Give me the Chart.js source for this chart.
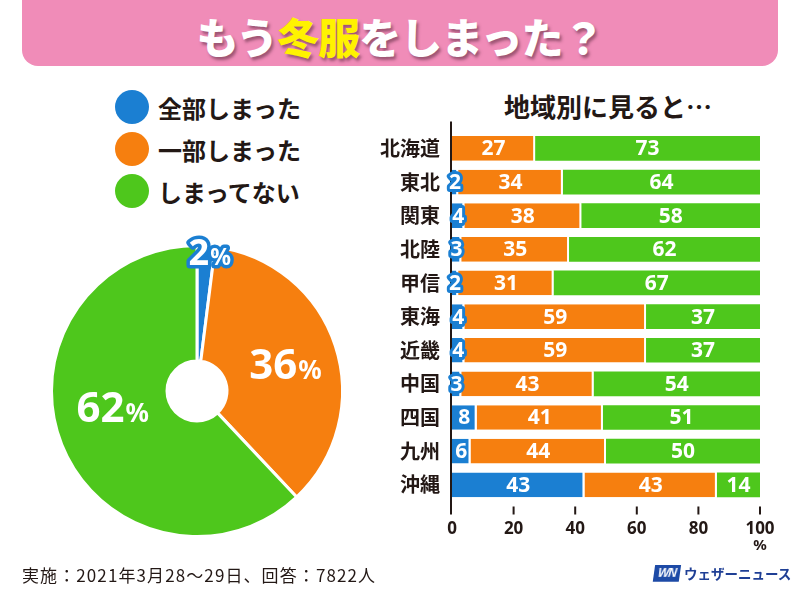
<!DOCTYPE html>
<html><head><meta charset="utf-8">
<script src="https://cdn.jsdelivr.net/npm/chart.js@4.4.1/dist/chart.umd.min.js"></script>
<style>
html,body{margin:0;padding:0;background:#fff;}
#wrap{position:relative;width:800px;height:600px;overflow:hidden;font-family:'Noto Sans CJK JP','Noto Sans',sans-serif;color:#231815;}
#banner{position:absolute;left:22px;top:-20px;width:756px;height:86px;background:#f08cb8;border-radius:0 0 16px 16px;}
#title{position:absolute;left:0;width:800px;top:8px;text-align:center;font-size:42px;font-weight:900;color:#fff;line-height:56px;letter-spacing:-1px;text-shadow:2px 3px 3px rgba(90,40,60,0.55);}
#title .y{color:#fff200;}
.leg{position:absolute;left:115px;height:34px;display:flex;align-items:center;font-size:24px;font-weight:700;white-space:nowrap;}
.leg .dot{width:34px;height:34px;border-radius:50%;margin-right:9px;}
#sub{position:absolute;left:470px;width:276px;top:88px;text-align:center;font-size:26px;font-weight:700;line-height:36px;}
#foot{position:absolute;left:22px;top:563px;font-size:17px;font-weight:400;line-height:24px;color:#231815;letter-spacing:1.1px;}
#logo{position:absolute;left:654px;top:563px;display:flex;align-items:center;}
#logo .wn{background:#1d4aa6;color:#fff;font:italic 700 12px 'Liberation Sans',sans-serif;padding:1px 4px;transform:skewX(-8deg);letter-spacing:-1px;}
#logo .nm{color:#1f3f95;font-size:13.5px;font-weight:700;margin-left:4px;letter-spacing:0;}
#pie{position:absolute;left:30px;top:224px;}
#bar{position:absolute;left:360px;top:85px;}
</style></head>
<body><div id="wrap">
<div id="banner"></div>
<div id="title">もう<span class="y">冬服</span>をしまった？</div>
<div id="legend"></div>
<div id="sub">地域別に見ると…</div>
<canvas id="pie" width="334" height="334"></canvas>
<canvas id="bar" width="440" height="480"></canvas>
<div id="foot">実施：2021年3月28～29日、回答：7822人</div>
<div id="logo"><span class="wn">WN</span><span class="nm">ウェザーニュース</span></div>
</div>
<script>
// ---- data ----
const answerLabels = ['全部しまった', '一部しまった', 'しまってない'];
const overallValues = [2, 36, 62];
const regions = ['北海道','東北','関東','北陸','甲信','東海','近畿','中国','四国','九州','沖縄'];
const allPut  = [0, 2, 4, 3, 2, 4, 4, 3, 8, 6, 43];
const partPut = [27, 34, 38, 35, 31, 59, 59, 43, 41, 44, 43];
const notPut  = [73, 64, 58, 62, 67, 37, 37, 54, 51, 50, 14];
const xTicks  = [0, 20, 40, 60, 80, 100];

const BLUE = '#1b7fd2', ORANGE = '#f67f0f', GREEN = '#4ec71c', INK = '#231815';
const COLORS = [BLUE, ORANGE, GREEN];

// legend (HTML)
const legEl = document.getElementById('legend');
answerLabels.forEach((t, i) => {
  const d = document.createElement('div');
  d.className = 'leg';
  d.style.top = (90 + i * 42) + 'px';
  d.innerHTML = '<span class="dot" style="background:' + COLORS[i] + '"></span>' + t;
  legEl.appendChild(d);
});

// ---- pie ----
const pieLabelOpts = [
  {k: 0.96, dx: 4, dy: 0, badge: true},
  {k: 0.64, dx: 0, dy: 2, badge: false},
  {k: 0.623, dx: 0, dy: -17, badge: false}
];
const pieLabels = {
  id: 'pieLabels',
  afterDatasetsDraw(chart) {
    const ctx = chart.ctx;
    const meta = chart.getDatasetMeta(0);
    meta.data.forEach((arc, i) => {
      const o = pieLabelOpts[i];
      const mid = (arc.startAngle + arc.endAngle) / 2;
      const r = arc.outerRadius * o.k;
      const cx = arc.x + Math.cos(mid) * r + o.dx;
      const cy = arc.y + Math.sin(mid) * r + o.dy;
      const num = String(chart.data.datasets[0].data[i]);
      const big = o.badge ? 36 : 42, small = o.badge ? 23 : 26;
      const fb = '700 ' + big + 'px "Noto Sans", sans-serif';
      const fs = '700 ' + small + 'px "Noto Sans", sans-serif';
      ctx.save();
      ctx.font = fb; const wb = ctx.measureText(num).width;
      ctx.font = fs; const ws = ctx.measureText('%').width;
      const x0 = cx - (wb + ws + 1) / 2;
      const base = cy + big * 0.36;
      ctx.textAlign = 'left'; ctx.textBaseline = 'alphabetic';
      if (o.badge) {
        ctx.lineJoin = 'round'; ctx.strokeStyle = BLUE; ctx.lineWidth = 7;
        ctx.font = fb; ctx.strokeText(num, x0, base);
        ctx.font = fs; ctx.strokeText('%', x0 + wb + 1, base);
      }
      ctx.fillStyle = '#fff';
      ctx.font = fb; ctx.fillText(num, x0, base);
      ctx.font = fs; ctx.fillText('%', x0 + wb + 1, base);
      ctx.restore();
    });
  }
};
new Chart(document.getElementById('pie'), {
  type: 'doughnut',
  data: { labels: answerLabels, datasets: [{ data: overallValues, backgroundColor: COLORS, borderColor: '#fff', borderWidth: 3, hoverOffset: 0, offset: 0 }] },
  options: {
    responsive: false, animation: false, cutout: 30, rotation: 0, circumference: 360,
    layout: { padding: 20 },
    plugins: { legend: { display: false }, tooltip: { enabled: false } }
  },
  plugins: [pieLabels]
});

// ---- stacked bars ----
const axisPlugin = {
  id: 'axisLines',
  beforeDatasetsDraw(chart) {
    const {ctx, chartArea: a, scales: {x}} = chart;
    ctx.save();
    ctx.strokeStyle = INK; ctx.lineWidth = 2;
    ctx.beginPath();
    ctx.moveTo(a.left - 1, a.top - 10); ctx.lineTo(a.left - 1, a.bottom + 13);
    xTicks.forEach(t => {
      if (t === 0) return;
      const px = x.getPixelForValue(t);
      ctx.moveTo(px, a.bottom + 5); ctx.lineTo(px, a.bottom + 13);
    });
    ctx.stroke();
    ctx.fillStyle = INK; ctx.font = '700 15px "Noto Sans", sans-serif';
    ctx.textAlign = 'center'; ctx.textBaseline = 'middle';
    ctx.fillText('%', x.getPixelForValue(100), a.bottom + 44);
    ctx.restore();
  }
};
const barLabels = {
  id: 'barLabels',
  afterDatasetsDraw(chart) {
    const ctx = chart.ctx;
    chart.data.datasets.forEach((ds, di) => {
      const meta = chart.getDatasetMeta(di);
      meta.data.forEach((bar, i) => {
        const v = ds.data[i];
        if (!v) return;
        const cx = (bar.x + bar.base) / 2;
        const cy = bar.y + 1;
        ctx.save();
        ctx.font = '700 21px "Noto Sans", sans-serif';
        ctx.textAlign = 'center'; ctx.textBaseline = 'middle';
        if (di === 0 && v < 5) {
          ctx.lineJoin = 'round'; ctx.lineWidth = 6; ctx.strokeStyle = BLUE;
          ctx.strokeText(String(v), cx, cy);
        }
        ctx.fillStyle = '#fff';
        ctx.fillText(String(v), cx, cy);
        ctx.restore();
      });
    });
  }
};
const segBorder = {left: 0, right: 2, top: 0, bottom: 0};
new Chart(document.getElementById('bar'), {
  type: 'bar',
  data: {
    labels: regions,
    datasets: [
      { label: answerLabels[0], data: allPut, backgroundColor: BLUE, borderColor: '#fff', borderWidth: segBorder, borderSkipped: false },
      { label: answerLabels[1], data: partPut, backgroundColor: ORANGE, borderColor: '#fff', borderWidth: segBorder, borderSkipped: false },
      { label: answerLabels[2], data: notPut, backgroundColor: GREEN, borderWidth: 0 }
    ]
  },
  options: {
    indexAxis: 'y', responsive: false, animation: false,
    layout: { padding: { left: 0, right: 40, top: 46.6, bottom: 0 } },
    datasets: { bar: { barPercentage: 0.735, categoryPercentage: 1 } },
    scales: {
      x: {
        stacked: true, min: 0, max: 100,
        afterBuildTicks: s => { s.ticks = xTicks.map(v => ({ value: v })); },
        afterFit: s => { s.height = 63.4; },
        grid: { display: false, drawTicks: false }, border: { display: false },
        ticks: { padding: 17, color: INK, font: { family: 'Noto Sans', weight: 'bold', size: 17 } }
      },
      y: {
        stacked: true,
        afterFit: s => { s.width = 92; },
        grid: { display: false, drawTicks: false }, border: { display: false },
        ticks: { padding: 12, color: INK, font: { family: "'Noto Sans CJK JP'", weight: 'bold', size: 20 } }
      }
    },
    plugins: { legend: { display: false }, tooltip: { enabled: false } }
  },
  plugins: [axisPlugin, barLabels]
});
</script>
</body></html>
